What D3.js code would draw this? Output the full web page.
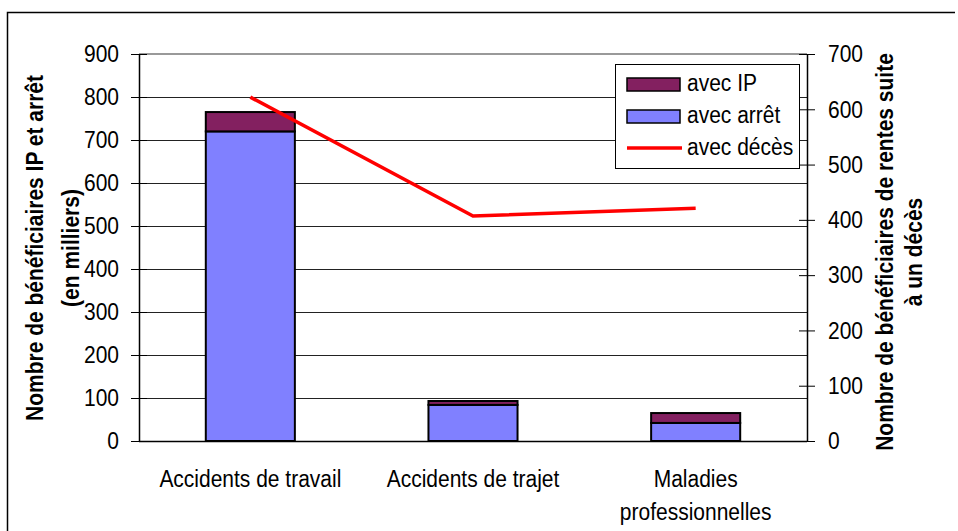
<!DOCTYPE html>
<html>
<head>
<meta charset="utf-8">
<script src="https://cdn.jsdelivr.net/npm/d3@7"></script>
<style>
  body { margin: 0; background: #fff; }
  svg { display: block; }
  text { font-family: "Liberation Sans", Arial, sans-serif; fill: #000; }
</style>
</head>
<body>
<svg id="chart"></svg>
<script>
// données
const categories = [["Accidents de travail"], ["Accidents de trajet"], ["Maladies", "professionnelles"]];
const avecArret = [720, 84, 42];
const avecIP = [45, 9, 23];
const avecDeces = [622, 407, 421];
const leftTicks = [0, 100, 200, 300, 400, 500, 600, 700, 800, 900];
const rightTicks = [0, 100, 200, 300, 400, 500, 600, 700];

const width = 958, height = 531;
const m = { left: 139, right: 807, top: 54, bottom: 441 };
const stretch = "scale(1,1.15)"; // police un peu étirée en hauteur

const svg = d3.select("#chart").attr("width", width).attr("height", height);

// cadre extérieur (coupé à droite et en bas)
svg.append("path")
  .attr("d", "M7.5,531 V12.5 H955")
  .attr("fill", "none").attr("stroke", "#000").attr("stroke-width", 1.5);

const x = d3.scaleBand().domain(d3.range(categories.length)).range([m.left, m.right]).paddingInner(0.6).paddingOuter(0.3);
const y = d3.scaleLinear().domain([0, 900]).range([m.bottom, m.top]);
const y2 = d3.scaleLinear().domain([0, 700]).range([m.bottom, m.top]);

// grille
svg.append("g").selectAll("line")
  .data(leftTicks.filter(d => d > 0 && d < 900))
  .join("line")
  .attr("x1", m.left).attr("x2", m.right)
  .attr("y1", d => Math.round(y(d)) + 0.5).attr("y2", d => Math.round(y(d)) + 0.5)
  .attr("stroke", "#222").attr("stroke-width", 1);

svg.append("line")
  .attr("x1", m.left).attr("x2", m.right)
  .attr("y1", m.top).attr("y2", m.top)
  .attr("stroke", "#999").attr("stroke-width", 2);

// barres empilées
const stackData = categories.map((c, i) => ({ i, arret: avecArret[i], ip: avecIP[i] }));
const series = d3.stack().keys(["arret", "ip"])(stackData);
const colors = { arret: "#8080ff", ip: "#832060" };

svg.append("g").selectAll("g")
  .data(series)
  .join("g")
  .attr("fill", d => colors[d.key])
  .selectAll("rect")
  .data(d => d)
  .join("rect")
  .attr("x", d => x(d.data.i))
  .attr("width", x.bandwidth())
  .attr("y", d => y(d[1]))
  .attr("height", d => y(d[0]) - y(d[1]))
  .attr("stroke", "#000").attr("stroke-width", 2);

// axe gauche
const axL = svg.append("g").attr("transform", `translate(${m.left},0)`)
  .call(d3.axisLeft(y).tickValues(leftTicks).tickSize(8).tickPadding(12));
axL.selectAll(".tick line").attr("x2", -8).attr("x1", 8);
axL.selectAll(".domain").attr("d", `M0.5,${m.top}V${m.bottom}`).attr("stroke-width", 1.5);
axL.selectAll(".tick text").style("font-size", "21px").style("font-family", "Liberation Sans, Arial, sans-serif")
  .attr("transform", stretch);

// axe droit
const axR = svg.append("g").attr("transform", `translate(${m.right},0)`)
  .call(d3.axisRight(y2).tickValues(rightTicks).tickSize(8).tickPadding(13));
axR.selectAll(".tick line").attr("x1", -8).attr("x2", 8);
axR.selectAll(".domain").attr("d", `M0.5,${m.top}V${m.bottom}`).attr("stroke-width", 1.5);
axR.selectAll(".tick text").style("font-size", "21px").style("font-family", "Liberation Sans, Arial, sans-serif")
  .attr("transform", stretch);

// axe des catégories
svg.append("line")
  .attr("x1", m.left).attr("x2", m.right)
  .attr("y1", m.bottom + 0.5).attr("y2", m.bottom + 0.5)
  .attr("stroke", "#000").attr("stroke-width", 1.5);

const catG = svg.append("g").selectAll("g")
  .data(categories)
  .join("g")
  .attr("transform", (d, i) => `translate(${x(i) + x.bandwidth() / 2},487)`);
catG.selectAll("text")
  .data(d => d)
  .join("text")
  .attr("text-anchor", "middle")
  .attr("transform", (d, j) => `translate(0,${j * 33}) ${stretch}`)
  .style("font-size", "21px")
  .text(d => d);

// ligne des décès
const line = d3.line()
  .x((d, i) => x(i) + x.bandwidth() / 2)
  .y(d => y2(d));
svg.append("path")
  .datum(avecDeces)
  .attr("d", line)
  .attr("fill", "none").attr("stroke", "#ff0000").attr("stroke-width", 3.5);

// titres des axes
function axisTitle(cx, cy, lines, dx) {
  const g = svg.append("g").attr("transform", `translate(${cx},${cy}) rotate(-90)`);
  g.selectAll("text").data(lines).join("text")
    .attr("text-anchor", "middle")
    .attr("transform", (d, i) => `translate(0,${i * dx}) ${stretch}`)
    .style("font-size", "21px").style("font-weight", "bold")
    .text(d => d);
}
axisTitle(43, 248, ["Nombre de bénéficiaires IP et arrêt", "(en milliers)"], 36);
axisTitle(893, 252, ["Nombre de bénéficiaires de rentes suite", "à un décès"], 29);

// légende
const legend = svg.append("g").attr("transform", "translate(615,64)");
legend.append("rect").attr("x", 0.5).attr("y", 0.5).attr("width", 184).attr("height", 104)
  .attr("fill", "#fff").attr("stroke", "#000").attr("stroke-width", 1);
const legItems = [
  { label: "avec IP", type: "rect", color: colors.ip },
  { label: "avec arrêt", type: "rect", color: colors.arret },
  { label: "avec décès", type: "line", color: "#ff0000" }
];
const li = legend.selectAll("g.item").data(legItems).join("g")
  .attr("class", "item")
  .attr("transform", (d, i) => `translate(0,${20 + i * 32})`);
li.filter(d => d.type === "rect").append("rect")
  .attr("x", 12).attr("y", -6).attr("width", 53).attr("height", 13)
  .attr("fill", d => d.color).attr("stroke", "#000").attr("stroke-width", 1.5);
li.filter(d => d.type === "line").append("line")
  .attr("x1", 12).attr("x2", 67).attr("y1", 0).attr("y2", 0)
  .attr("stroke", d => d.color).attr("stroke-width", 3.5);
li.append("text")
  .attr("transform", `translate(72,7) ${stretch}`)
  .style("font-size", "21px")
  .text(d => d.label);
</script>
</body>
</html>
